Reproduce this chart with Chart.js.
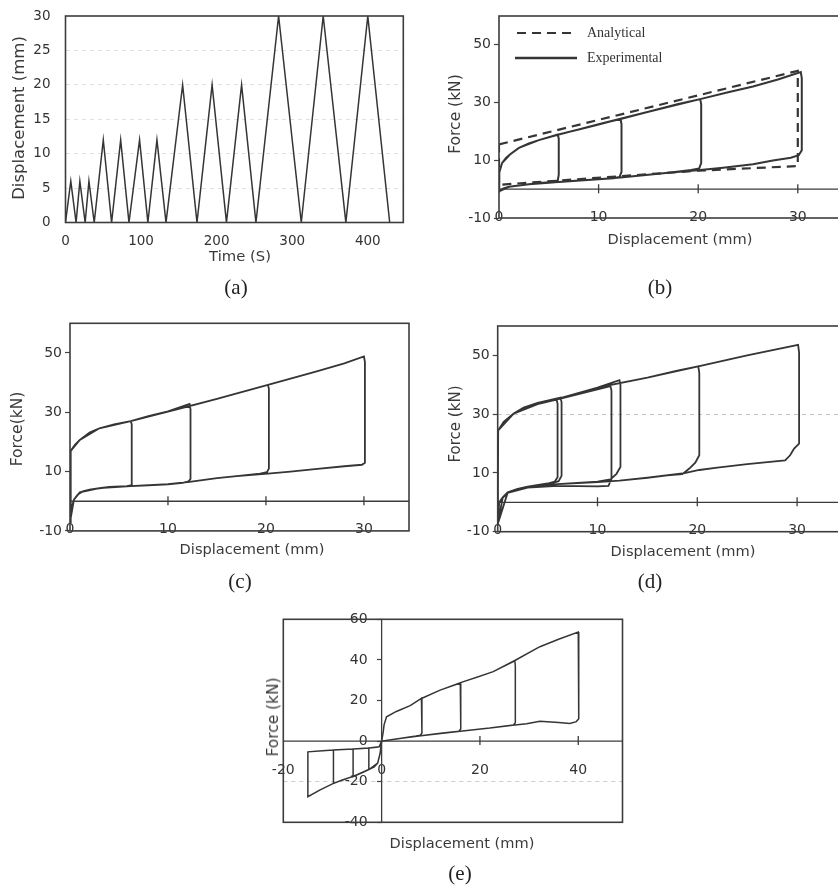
<!DOCTYPE html>
<html>
<head>
<meta charset="utf-8">
<script src="https://cdn.jsdelivr.net/npm/chart.js"></script>
<style>
  body { margin: 0; width: 838px; height: 888px; overflow: hidden; position: relative; background: #fff;
         font-family: "DejaVu Sans", sans-serif; color: #3a3a3a; }
  canvas { position: absolute; }
  .t { position: absolute; white-space: nowrap; transform: translate(-50%, -50%); }
  .rot { transform: translate(-50%, -50%) rotate(-90deg); }
  .cap { position: absolute; font-family: "Liberation Serif", serif; font-size: 21px; color: #222;
         transform: translate(-50%, -50%); }
  .leg { position: absolute; font-family: "Liberation Serif", serif; font-size: 14px; color: #333;
         white-space: nowrap; transform: translateY(-50%); }
</style>
</head>
<body>
<canvas id="ca"></canvas>
<canvas id="cb"></canvas>
<canvas id="cc"></canvas>
<canvas id="cd"></canvas>
<canvas id="ce"></canvas>

<div class="t rot" style="left:18px;top:118px;font-size:16.5px">Displacement (mm)</div>
<div class="t" style="left:240px;top:255px;font-size:14.8px">Time (S)</div>
<div class="cap" style="left:236px;top:287px">(a)</div>

<div class="t rot" style="left:455px;top:114px;font-size:15.5px">Force (kN)</div>
<div class="t" style="left:680px;top:238px;font-size:14.6px">Displacement (mm)</div>
<div class="cap" style="left:660px;top:287px">(b)</div>
<div class="leg" style="left:587px;top:33px">Analytical</div>
<div class="leg" style="left:587px;top:58px">Experimental</div>

<div class="t rot" style="left:17px;top:429px;font-size:15.5px">Force(kN)</div>
<div class="t" style="left:252px;top:548px;font-size:14.6px">Displacement (mm)</div>
<div class="cap" style="left:240px;top:581px">(c)</div>

<div class="t rot" style="left:455px;top:424px;font-size:15px">Force (kN)</div>
<div class="t" style="left:683px;top:550px;font-size:14.6px">Displacement (mm)</div>
<div class="cap" style="left:650px;top:581px">(d)</div>

<div class="t rot" style="left:273px;top:717px;font-size:15.4px">Force (kN)</div>
<div class="t" style="left:462px;top:842px;font-size:14.6px">Displacement (mm)</div>
<div class="cap" style="left:460px;top:873px">(e)</div>

<script>
// (a) loading history
const aTime = [0, 7, 14, 19, 26, 31, 38, 50, 61, 73, 84, 98, 109, 121, 133, 155, 174, 194, 213, 233, 252, 282, 312, 341, 371, 400, 429];
const aDisp = [0, 6, 0, 6, 0, 6, 0, 12, 0, 12, 0, 12, 0, 12, 0, 20, 0, 20, 0, 20, 0, 30, 0, 30, 0, 30, 0];
const aXTicks = [0, 100, 200, 300, 400];
const aYTicks = [0, 5, 10, 15, 20, 25, 30];

// (b) experimental vs analytical
const bExpX = [0, 0, 0.05, 0.3, 0.7, 1.1, 2, 3, 4, 5, 5.9, 6, 6, 5.9, 5.5, 4, 3, 2, 1, 0.4, 0,
  0, 0.05, 0.3, 1.1, 2, 3, 4, 5.9, 8, 10, 12.2, 12.3, 12.3, 12.1, 11.5, 10, 8, 6, 4, 2, 1, 0,
  0, 0.05, 0.3, 1.1, 2, 4, 6, 10, 12.2, 15, 18, 20.2, 20.3, 20.3, 20.1, 19.3, 17, 15, 12.2, 10, 6, 3, 1, 0,
  0, 0.05, 0.3, 1.1, 2, 4, 6, 10, 15, 20.2, 23, 25.5, 28, 30.3, 30.4, 30.4, 30.1, 29.3, 27.5, 25.5, 22.5, 20.2, 17, 15, 12.2, 10, 6, 3, 1, 0];
const bExpY = [-0.8, 3, 5.7, 9, 10.8, 12, 14.3, 15.8, 17, 18, 18.9, 17.5, 5, 3, 2.5, 2.1, 1.7, 1.3, 0.8, 0.2, -0.8,
  3, 5.7, 9, 12, 14.3, 15.8, 17, 18.9, 20.7, 22.4, 24.4, 22.5, 6, 4.2, 3.8, 3.4, 3, 2.5, 2.1, 1.3, 0.8, -0.8,
  3, 5.7, 9, 12, 14.3, 17, 18.9, 22.5, 24.3, 26.8, 29.5, 31.2, 29.5, 9, 7.2, 6.6, 5.7, 5, 4, 3.4, 2.5, 1.7, 0.8, -0.8,
  3, 5.7, 9, 12, 14.3, 17, 18.9, 22.5, 26.8, 31.2, 33.6, 35.6, 38, 40.6, 38.5, 13.5, 11.8, 10.9, 9.9, 8.6, 7.4, 6.6, 5.7, 5, 4, 3.4, 2.5, 1.7, 0.8, -0.8];
const bAnaX = [0, 30, 30, 20, 0, 0];
const bAnaY = [15.5, 41, 8, 6.4, 1.5, 15.5];
const bXTicks = [0, 10, 20, 30];
const bYTicks = [-10, 10, 30, 50];

// (c)
const cX = [0, 0.05, 0.1, 0.5, 1, 2, 3, 4.5, 6.2, 6.3, 6.3, 5.8, 4, 3, 2, 1.3, 0.8, 0.4, 0.15, 0,
  0.05, 0.1, 0.5, 1, 2, 3, 4.5, 6.2, 8, 10, 12.2, 12.3, 12.3, 12.1, 11.5, 10, 8, 6.2, 4, 2, 1, 0.4, 0,
  0.05, 0.1, 1, 3, 6.2, 10, 12.2, 15, 17.5, 20.2, 20.3, 20.3, 20.1, 19.4, 17, 15, 12.2, 10, 6.2, 3, 1, 0.4, 0,
  0.05, 0.1, 1, 3, 6.2, 10, 15, 20.2, 25, 28, 30, 30.1, 30.1, 29.8, 28, 25, 22.5, 20.2, 17, 15, 12.2, 10, 6.2, 3, 1, 0.4, 0];
const cY = [-7, 5, 17, 19, 20.7, 23.2, 24.6, 25.9, 27, 26, 5.4, 5.1, 4.8, 4.4, 3.9, 3.3, 2.3, 0.5, -2.5, -7,
  5, 17, 19, 20.7, 23.2, 24.6, 25.9, 27, 28.7, 30.3, 32.8, 31, 7.5, 6.7, 6.2, 5.7, 5.4, 5.1, 4.8, 3.9, 3, 0.5, -7,
  5, 17, 20.7, 24.6, 27, 30.2, 32.1, 34.5, 36.8, 39.2, 38, 11, 9.8, 9.3, 8.5, 7.8, 6.5, 5.8, 5.1, 4.4, 3, 0.5, -7,
  5, 17, 20.7, 24.6, 27, 30.2, 34.5, 39.2, 43.6, 46.5, 48.8, 47, 13, 12.3, 11.8, 10.8, 10, 9.3, 8.5, 7.8, 6.5, 5.8, 5.1, 4.4, 3, 0.5, -7];
const cXTicks = [0, 10, 20, 30];
const cYTicks = [-10, 10, 30, 50];

// (d)
const dX = [0, 0.02, 0.05, 0.6, 1.6, 2.6, 4, 5.9, 6, 6, 5.7, 5, 3, 2, 1, 0.5, 0.15, 0,
  0.02, 0.05, 0.6, 1.6, 2.6, 4, 6.3, 6.4, 6.4, 6.1, 5, 3, 1, 0.5, 0,
  0.02, 0.05, 0.6, 1.6, 2.6, 4, 5.9, 8, 10, 12.2, 12.3, 12.3, 11.9, 11.3, 10, 8, 6, 3, 1, 0.5, 0,
  0.05, 1.6, 4, 6, 9, 11.3, 11.4, 11.4, 11.1, 10, 6, 3, 1, 0,
  0.05, 1.6, 4, 6, 10, 12.2, 15, 18, 20.1, 20.2, 20.2, 19.8, 19.2, 18.5, 17, 15, 12.2, 10, 6, 3, 1, 0.5, 0,
  0.05, 1.6, 4, 6, 10, 15, 20.1, 25, 30.1, 30.2, 30.2, 29.7, 29.3, 28.8, 25, 22, 20.2, 18.5, 15, 12.2, 10, 6, 3, 1, 0.5, 0];
const dY = [-7.5, 10, 24.5, 27.4, 30.2, 31.9, 33.5, 35, 33.5, 8.5, 7, 6.4, 5.3, 4.6, 3.4, 1.7, 0, -7.5,
  10, 24.5, 27.4, 30.2, 32.2, 33.8, 35.6, 34, 9, 7.2, 6, 5, 3.2, 1.5, -7.5,
  10, 24.5, 27.4, 30.2, 31.9, 33.5, 35, 37, 39, 41.6, 40, 12, 9.7, 7.8, 7, 6.6, 6.2, 5.2, 3.4, 1.7, -7.5,
  24.5, 30.2, 33.4, 35, 37.6, 39.5, 38, 8, 5.6, 5.4, 5.6, 5, 3.3, -7.5,
  24.5, 30.2, 33.5, 35.2, 39, 40.6, 42.4, 44.8, 46.3, 44, 16, 13.5, 11.5, 9.6, 9.2, 8.3, 7.4, 6.9, 6.2, 5.2, 3.4, 1.7, -7.5,
  24.5, 30.2, 33.5, 35.2, 39, 42.4, 46.3, 50, 53.6, 51, 20, 18.3, 16, 14.3, 13, 11.8, 11, 9.8, 8.4, 7.4, 6.9, 6.2, 5.2, 3.4, 1.7, -7.5];
const dXTicks = [0, 10, 20, 30];
const dYTicks = [-10, 10, 30, 50];

// (e) reversed cycles
const eX = [0, 0.3, 0.5, 1, 3, 5.8, 8.1, 8.2, 8.2, 7.9, 7, 4, 2, 0,
  -0.3, -0.8, -1.5, -2.6, -2.6, -1.5, -0.5, 0,
  0.3, 0.5, 1, 3, 5.8, 8.1, 11.9, 16, 16.1, 16.1, 15.7, 12, 8, 4, 2, 0,
  -0.3, -0.8, -2.6, -4, -5.8, -5.8, -4, -2.6, -0.5, 0,
  0.3, 0.5, 1, 3, 5.8, 8.1, 11.9, 15.9, 19.5, 22.7, 27.1, 27.2, 27.2, 26.8, 22, 16, 12, 8, 4, 0,
  -0.3, -0.8, -2.6, -5.8, -8, -9.8, -9.8, -5.8, -2.6, -0.5, 0,
  0.3, 0.5, 1, 3, 5.8, 8.1, 11.9, 15.9, 22.7, 27.1, 32.2, 36, 40, 40.1, 40.1, 39.6, 38.3, 36, 32.2, 29.5, 27.1, 22, 16, 8, 4, 0,
  -0.3, -0.8, -2.6, -5.8, -9.8, -12.5, -15, -15, -12, -9.8, -5.8, -2.6, -0.5, 0];
const eY = [0, 4, 8, 12, 14.6, 17.5, 21, 20, 4, 2.9, 2.5, 1.4, 0.6, 0,
  -6, -10.8, -12.7, -14, -3.4, -3.1, -2.8, 0,
  4, 8, 12, 14.6, 17.5, 21, 25.1, 28.6, 27, 6, 4.9, 3.9, 2.6, 1.4, 0.6, 0,
  -6, -10.8, -14, -15.6, -17.5, -3.9, -3.6, -3.4, -2.8, 0,
  4, 8, 12, 14.6, 17.5, 21, 25.1, 28.7, 31.5, 34.2, 39.5, 37, 9, 7.9, 6.4, 4.9, 3.9, 2.6, 1.4, 0,
  -6, -10.8, -14, -17.4, -19.2, -20.9, -4.4, -3.9, -3.4, -2.8, 0,
  4, 8, 12, 14.6, 17.5, 21, 25.1, 28.7, 34.2, 39.7, 46.5, 50.2, 53.7, 51, 11, 9.6, 8.7, 9.2, 9.8, 8.6, 7.9, 6.4, 4.9, 2.6, 1.4, 0,
  -6, -10.8, -14, -17.4, -20.8, -24, -27.4, -5.3, -4.8, -4.4, -3.9, -3.4, -2.8, 0];
const eXTicks = [-20, 0, 20, 40];
const eYTicks = [-40, -20, 0, 20, 40, 60];

const INK = '#353535';

function pts(xs, ys) {
  return xs.map((x, i) => ({ x: x, y: ys[i] }));
}

function line(xs, ys, width, dash) {
  return { data: pts(xs, ys), showLine: true, borderColor: INK, borderWidth: width,
           borderDash: dash || [], pointRadius: 0, fill: false };
}

// frame, zero lines, tick marks on the zero line, optional legend samples
function framePlugin(o) {
  return {
    id: 'frame',
    afterDraw(chart) {
      const ctx = chart.ctx, a = chart.chartArea, x = chart.scales.x, y = chart.scales.y;
      ctx.save();
      ctx.strokeStyle = '#3c3c3c';
      ctx.lineWidth = 1.6;
      ctx.strokeRect(a.left, a.top, a.right - a.left, a.bottom - a.top);
      const y0 = y.getPixelForValue(0), x0 = x.getPixelForValue(0);
      ctx.lineWidth = 1.3;
      ctx.beginPath();
      if (o.zeroLines) {
        ctx.moveTo(a.left, y0); ctx.lineTo(a.right, y0);
        if (x0 > a.left + 1) { ctx.moveTo(x0, a.top); ctx.lineTo(x0, a.bottom); }
      }
      (o.xMarks || []).forEach(v => {
        const px = x.getPixelForValue(v);
        ctx.moveTo(px, y0 - 5); ctx.lineTo(px, y0 + 4);
      });
      ctx.stroke();
      if (o.legend) {
        ctx.strokeStyle = INK;
        ctx.lineWidth = 2.2;
        ctx.setLineDash([9, 6]);
        ctx.beginPath(); ctx.moveTo(97, 33); ctx.lineTo(156, 33); ctx.stroke();
        ctx.setLineDash([]);
        ctx.lineWidth = 2.6;
        ctx.beginPath(); ctx.moveTo(95, 58); ctx.lineTo(157, 58); ctx.stroke();
      }
      ctx.restore();
    }
  };
}

function makePanel(id, box, area, o) {
  const cv = document.getElementById(id);
  cv.width = box.w; cv.height = box.h;
  cv.style.left = box.x + 'px'; cv.style.top = box.y + 'px';
  const yLeft = o.xMin === 0;
  const pad = {
    left: yLeft ? 0 : area.l - box.x,
    top: area.t - box.y,
    right: box.x + box.w - area.r,
    bottom: box.y + box.h - area.b
  };
  const font = { family: 'DejaVu Sans', size: o.fontSize || 14 };
  const levels = o.gridLevels || [];
  new Chart(cv, {
    type: 'scatter',
    data: { datasets: o.datasets },
    options: {
      responsive: false,
      animation: false,
      layout: { padding: pad },
      plugins: { legend: { display: false }, tooltip: { enabled: false } },
      scales: {
        x: {
          type: 'linear', min: o.xMin, max: o.xMax, position: { y: 0 },
          grid: { display: false }, border: { display: false },
          ticks: { font: font, color: '#333', padding: o.xPad, maxRotation: 0, autoSkip: false,
                   callback: v => String(v) },
          afterBuildTicks: s => { s.ticks = o.xTicks.map(v => ({ value: v })); }
        },
        y: {
          type: 'linear', min: o.yMin, max: o.yMax,
          position: yLeft ? 'left' : { x: 0 },
          afterFit: s => { if (yLeft) s.width = area.l - box.x; },
          grid: {
            display: true, drawOnChartArea: true, drawTicks: true,
            tickLength: o.yTickLen, tickColor: o.yTickColor, tickWidth: 1.2, lineWidth: 1,
            color: c => (c.tick && levels.includes(c.tick.value)) ? o.gridColor : 'rgba(0,0,0,0)'
          },
          border: { display: false, dash: [4, 4] },
          ticks: { font: font, color: '#333', padding: yLeft ? o.yPad : 0, autoSkip: false,
                   callback: v => yLeft ? String(v) : v + '\u2002\u2002' },
          afterBuildTicks: s => { s.ticks = o.yTicks.map(v => ({ value: v })); }
        }
      }
    },
    plugins: [framePlugin(o)]
  });
}

makePanel('ca', { x: 0, y: 0, w: 420, h: 250 }, { l: 65.5, t: 16, r: 403.3, b: 222.5 }, {
  xMin: 0, xMax: 447, yMin: 0, yMax: 30, xTicks: aXTicks, yTicks: aYTicks,
  xPad: 3, yPad: 0, yTickLen: 15, yTickColor: 'rgba(0,0,0,0)', fontSize: 13.5,
  gridLevels: [5, 10, 15, 20, 25], gridColor: 'rgba(0,0,0,0.12)',
  datasets: [line(aTime, aDisp, 1.5)]
});

makePanel('cb', { x: 420, y: 0, w: 440, h: 250 }, { l: 499, t: 16, r: 847.6, b: 218 }, {
  xMin: 0, xMax: 35, yMin: -10, yMax: 60, xTicks: bXTicks, yTicks: bYTicks,
  xPad: 12, yPad: 3, yTickLen: 5, yTickColor: '#444', zeroLines: true, xMarks: [10, 20, 30],
  legend: true,
  datasets: [line(bAnaX, bAnaY, 2.2, [9, 6]), line(bExpX, bExpY, 2)]
});

makePanel('cc', { x: 0, y: 300, w: 420, h: 250 }, { l: 70, t: 323.3, r: 409, b: 530.9 }, {
  xMin: 0, xMax: 34.6, yMin: -10, yMax: 60, xTicks: cXTicks, yTicks: cYTicks,
  xPad: 12, yPad: 3, yTickLen: 5, yTickColor: '#444', zeroLines: true, xMarks: [10, 20, 30],
  datasets: [line(cX, cY, 1.8)]
});

makePanel('cd', { x: 420, y: 300, w: 440, h: 250 }, { l: 497.7, t: 326, r: 847, b: 531.7 }, {
  xMin: 0, xMax: 35, yMin: -10, yMax: 60, xTicks: dXTicks, yTicks: dYTicks,
  xPad: 12, yPad: 3, yTickLen: 5, yTickColor: '#444', zeroLines: true, xMarks: [10, 20, 30],
  gridLevels: [30], gridColor: 'rgba(0,0,0,0.22)',
  datasets: [line(dX, dY, 1.8)]
});

makePanel('ce', { x: 240, y: 600, w: 400, h: 240 }, { l: 283.3, t: 619.3, r: 622.5, b: 822.3 }, {
  xMin: -20, xMax: 49, yMin: -40, yMax: 60, xTicks: eXTicks, yTicks: eYTicks,
  xPad: 13, yTickLen: 5, yTickColor: '#444', zeroLines: true, xMarks: [20, 40],
  gridLevels: [-20], gridColor: 'rgba(0,0,0,0.2)',
  datasets: [line(eX, eY, 1.5)]
});
</script>
</body>
</html>
